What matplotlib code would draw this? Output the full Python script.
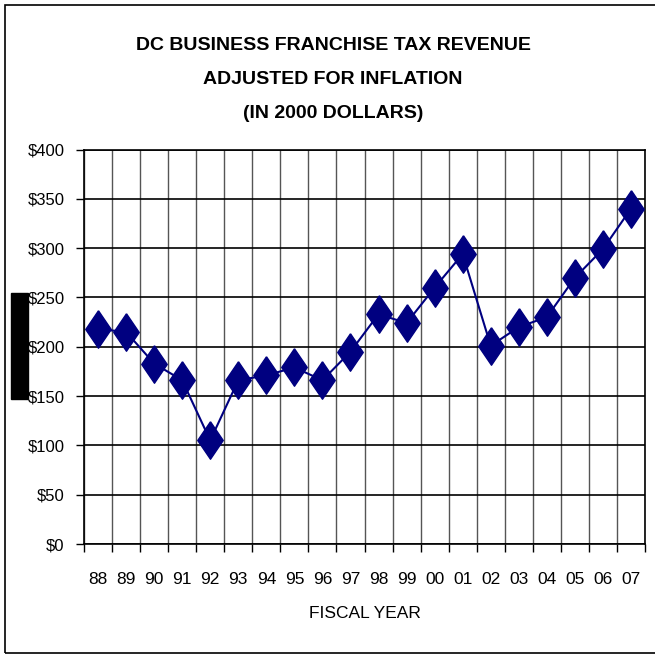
import matplotlib.pyplot as plt
from matplotlib.patches import Rectangle
from matplotlib.ticker import FuncFormatter, MultipleLocator

years = ['88', '89', '90', '91', '92', '93', '94', '95', '96', '97',
         '98', '99', '00', '01', '02', '03', '04', '05', '06', '07']
revenue = [218, 215, 183, 166, 105, 166, 171, 179, 166, 195,
           233, 224, 260, 294, 201, 220, 230, 270, 299, 340]

plt.rcParams['font.family'] = ['Liberation Sans', 'DejaVu Sans']

fig = plt.figure(figsize=(6.55, 6.54), dpi=100)
ax = fig.add_axes([84 / 655, 1 - 544 / 654, 561 / 655, 394.5 / 654])

# diamond a bit wider than the 'd' marker, like the Excel one
diamond = [(0, 1), (0.68, 0), (0, -1), (-0.68, 0), (0, 1)]

x = list(range(len(years)))
ax.plot(x, revenue, color='#000080', lw=1.5, marker=diamond, markersize=27,
        markerfacecolor='#000080', markeredgecolor='#000080', zorder=3)

ax.set_xlim(-0.5, len(years) - 0.5)
ax.set_ylim(0, 400)
ax.yaxis.set_major_locator(MultipleLocator(50))
ax.yaxis.set_major_formatter(FuncFormatter(lambda v, p: f'${v:.0f}'))

# category labels in the middle, ticks/grid on the boundaries
ax.set_xticks(x)
ax.set_xticklabels(years)
ax.tick_params(axis='x', which='major', length=0, pad=20, labelsize=12.5)
ax.set_xticks([i - 0.5 for i in range(len(years) + 1)], minor=True)
ax.tick_params(axis='x', which='minor', length=6, width=1, direction='out')
ax.tick_params(axis='y', length=6, width=1, direction='out', labelsize=12, pad=8)

ax.grid(True, axis='y', color='black', lw=1.2)
ax.grid(True, axis='x', which='minor', color='#555555', lw=1)
ax.set_axisbelow(True)
for s in ax.spines.values():
    s.set_linewidth(1.2)

ax.set_xlabel('FISCAL YEAR', fontsize=12.5, labelpad=14)

fig.text(333 / 655, 1 - 45 / 654, 'DC BUSINESS FRANCHISE TAX REVENUE', ha='center', va='center',
         fontsize=14, fontweight='bold')
fig.text(333 / 655, 1 - 79 / 654, 'ADJUSTED FOR INFLATION', ha='center', va='center',
         fontsize=14, fontweight='bold')
fig.text(333 / 655, 1 - 114 / 654, '(IN 2000 DOLLARS)', ha='center', va='center',
         fontsize=14, fontweight='bold')

# blacked-out box on the left and the outer frame
fig.patches.append(Rectangle((11 / 655, 1 - 399 / 654), 17 / 655, 106 / 654,
                             transform=fig.transFigure, color='black'))
fig.patches.append(Rectangle((5 / 655, 1 / 654), 660 / 655, 648 / 654,
                             transform=fig.transFigure, fill=False, edgecolor='black', lw=1.2))

fig.savefig('out.png', dpi=100)
